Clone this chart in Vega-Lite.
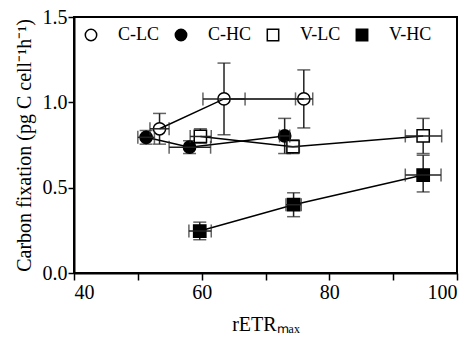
{
  "$schema": "https://vega.github.io/schema/vega-lite/v6.json",
  "width": 383,
  "height": 256,
  "autosize": {"type": "none"},
  "padding": {"left": 74, "top": 17, "right": 15, "bottom": 68},
  "background": "white",
  "config": {
    "view": {"stroke": "black", "strokeWidth": 2},
    "axis": {
      "labelFont": "Liberation Serif",
      "titleFont": "Liberation Serif",
      "labelColor": "black",
      "titleColor": "black",
      "domainColor": "black",
      "tickColor": "black",
      "domainWidth": 2,
      "tickWidth": 1.5,
      "tickSize": 6,
      "grid": false,
      "labelFontSize": 20,
      "titleFontSize": 20,
      "titleFontWeight": "normal"
    }
  },
  "data": {
    "values": [
      {"series": "C-LC", "x": 53.4, "y": 0.845, "xlo": 51.9, "xhi": 54.9, "ylo": 0.755, "yhi": 0.935},
      {"series": "C-LC", "x": 63.5, "y": 1.02, "xlo": 60.2, "xhi": 66.8, "ylo": 0.81, "yhi": 1.23},
      {"series": "C-LC", "x": 76.0, "y": 1.02, "xlo": 74.7, "xhi": 77.4, "ylo": 0.85, "yhi": 1.19},
      {"series": "C-HC", "x": 51.3, "y": 0.795, "xlo": 50.0, "xhi": 52.6, "ylo": 0.755, "yhi": 0.835},
      {"series": "C-HC", "x": 58.1, "y": 0.737, "xlo": 54.9, "xhi": 61.4, "ylo": 0.70, "yhi": 0.775},
      {"series": "C-HC", "x": 73.0, "y": 0.803, "xlo": 72.2, "xhi": 73.8, "ylo": 0.70, "yhi": 0.906},
      {"series": "V-LC", "x": 59.8, "y": 0.80, "xlo": 58.2, "xhi": 61.5, "ylo": 0.76, "yhi": 0.845},
      {"series": "V-LC", "x": 74.3, "y": 0.74, "xlo": 73.3, "xhi": 75.3, "ylo": 0.70, "yhi": 0.78},
      {"series": "V-LC", "x": 94.7, "y": 0.803, "xlo": 91.9, "xhi": 97.6, "ylo": 0.70, "yhi": 0.906},
      {"series": "V-HC", "x": 59.7, "y": 0.246, "xlo": 58.0, "xhi": 61.5, "ylo": 0.195, "yhi": 0.298},
      {"series": "V-HC", "x": 74.4, "y": 0.40, "xlo": 73.2, "xhi": 75.6, "ylo": 0.33, "yhi": 0.47},
      {"series": "V-HC", "x": 94.7, "y": 0.574, "xlo": 91.9, "xhi": 97.5, "ylo": 0.475, "yhi": 0.69}
    ]
  },
  "layer": [
    {
      "mark": {"type": "rule", "color": "#222222", "strokeWidth": 1.5},
      "encoding": {
        "x": {"field": "x", "type": "quantitative", "scale": {"domain": [40, 100]}, "title": "rETRₘₐₓ",
              "axis": {"values": [40, 50, 60, 70, 80, 90, 100], "labelExpr": "datum.value % 20 == 0 ? datum.label : ''", "labelPadding": 2, "titlePadding": 12, "tickSize": 7}},
        "y": {"field": "ylo", "type": "quantitative", "scale": {"domain": [0, 1.5]}, "title": "Carbon fixation (pg C cell⁻¹h⁻¹)",
              "axis": {"values": [0, 0.5, 1, 1.5], "format": ".1f", "labelPadding": 1, "titlePadding": 8}},
        "y2": {"field": "yhi"}
      }
    },
    {
      "mark": {"type": "tick", "orient": "horizontal", "color": "#222222", "thickness": 1.5, "size": 13},
      "encoding": {
        "x": {"field": "x", "type": "quantitative", "scale": {"domain": [40, 100]}, "title": "rETRₘₐₓ"},
        "y": {"field": "ylo", "type": "quantitative", "scale": {"domain": [0, 1.5]}, "title": "Carbon fixation (pg C cell⁻¹h⁻¹)"}
      }
    },
    {
      "mark": {"type": "tick", "orient": "horizontal", "color": "#222222", "thickness": 1.5, "size": 13},
      "encoding": {
        "x": {"field": "x", "type": "quantitative", "scale": {"domain": [40, 100]}, "title": "rETRₘₐₓ"},
        "y": {"field": "yhi", "type": "quantitative", "scale": {"domain": [0, 1.5]}, "title": "Carbon fixation (pg C cell⁻¹h⁻¹)"}
      }
    },
    {
      "mark": {"type": "point", "filled": false, "strokeWidth": 1.5, "stroke": "black", "size": 150, "opacity": 1},
      "encoding": {
        "x": {"field": "x", "type": "quantitative", "scale": {"domain": [40, 100]}, "title": "rETRₘₐₓ"},
        "y": {"field": "y", "type": "quantitative", "scale": {"domain": [0, 1.5]}, "title": "Carbon fixation (pg C cell⁻¹h⁻¹)"},
        "shape": {"field": "series", "type": "nominal",
                  "scale": {"domain": ["C-LC", "C-HC", "V-LC", "V-HC"], "range": ["circle", "circle", "square", "square"]},
                  "legend": {
                    "title": null, "orient": "none", "legendX": 8, "legendY": 9, "direction": "horizontal",
                    "labelFont": "Liberation Serif", "labelFontSize": 18, "labelColor": "black",
                    "symbolSize": 130, "symbolStrokeWidth": 1.5, "labelOffset": 18, "columnPadding": 12, "padding": 0
                  }},
        "fill": {"field": "series", "type": "nominal",
                 "scale": {"domain": ["C-LC", "C-HC", "V-LC", "V-HC"], "range": ["white", "black", "white", "black"]},
                 "legend": null}
      }
    },
    {
      "mark": {"type": "line", "color": "black", "strokeWidth": 1.5},
      "encoding": {
        "x": {"field": "x", "type": "quantitative", "scale": {"domain": [40, 100]}, "title": "rETRₘₐₓ"},
        "y": {"field": "y", "type": "quantitative", "scale": {"domain": [0, 1.5]}, "title": "Carbon fixation (pg C cell⁻¹h⁻¹)"},
        "detail": {"field": "series", "type": "nominal"}
      }
    },
    {
      "mark": {"type": "rule", "color": "#222222", "strokeWidth": 1.5},
      "encoding": {
        "x": {"field": "xlo", "type": "quantitative", "scale": {"domain": [40, 100]}, "title": "rETRₘₐₓ"},
        "x2": {"field": "xhi"},
        "y": {"field": "y", "type": "quantitative", "scale": {"domain": [0, 1.5]}, "title": "Carbon fixation (pg C cell⁻¹h⁻¹)"}
      }
    },
    {
      "mark": {"type": "tick", "orient": "vertical", "color": "#222222", "thickness": 1.5, "size": 13},
      "encoding": {
        "x": {"field": "xlo", "type": "quantitative", "scale": {"domain": [40, 100]}, "title": "rETRₘₐₓ"},
        "y": {"field": "y", "type": "quantitative", "scale": {"domain": [0, 1.5]}, "title": "Carbon fixation (pg C cell⁻¹h⁻¹)"}
      }
    },
    {
      "mark": {"type": "tick", "orient": "vertical", "color": "#222222", "thickness": 1.5, "size": 13},
      "encoding": {
        "x": {"field": "xhi", "type": "quantitative", "scale": {"domain": [40, 100]}, "title": "rETRₘₐₓ"},
        "y": {"field": "y", "type": "quantitative", "scale": {"domain": [0, 1.5]}, "title": "Carbon fixation (pg C cell⁻¹h⁻¹)"}
      }
    }
  ]
}
